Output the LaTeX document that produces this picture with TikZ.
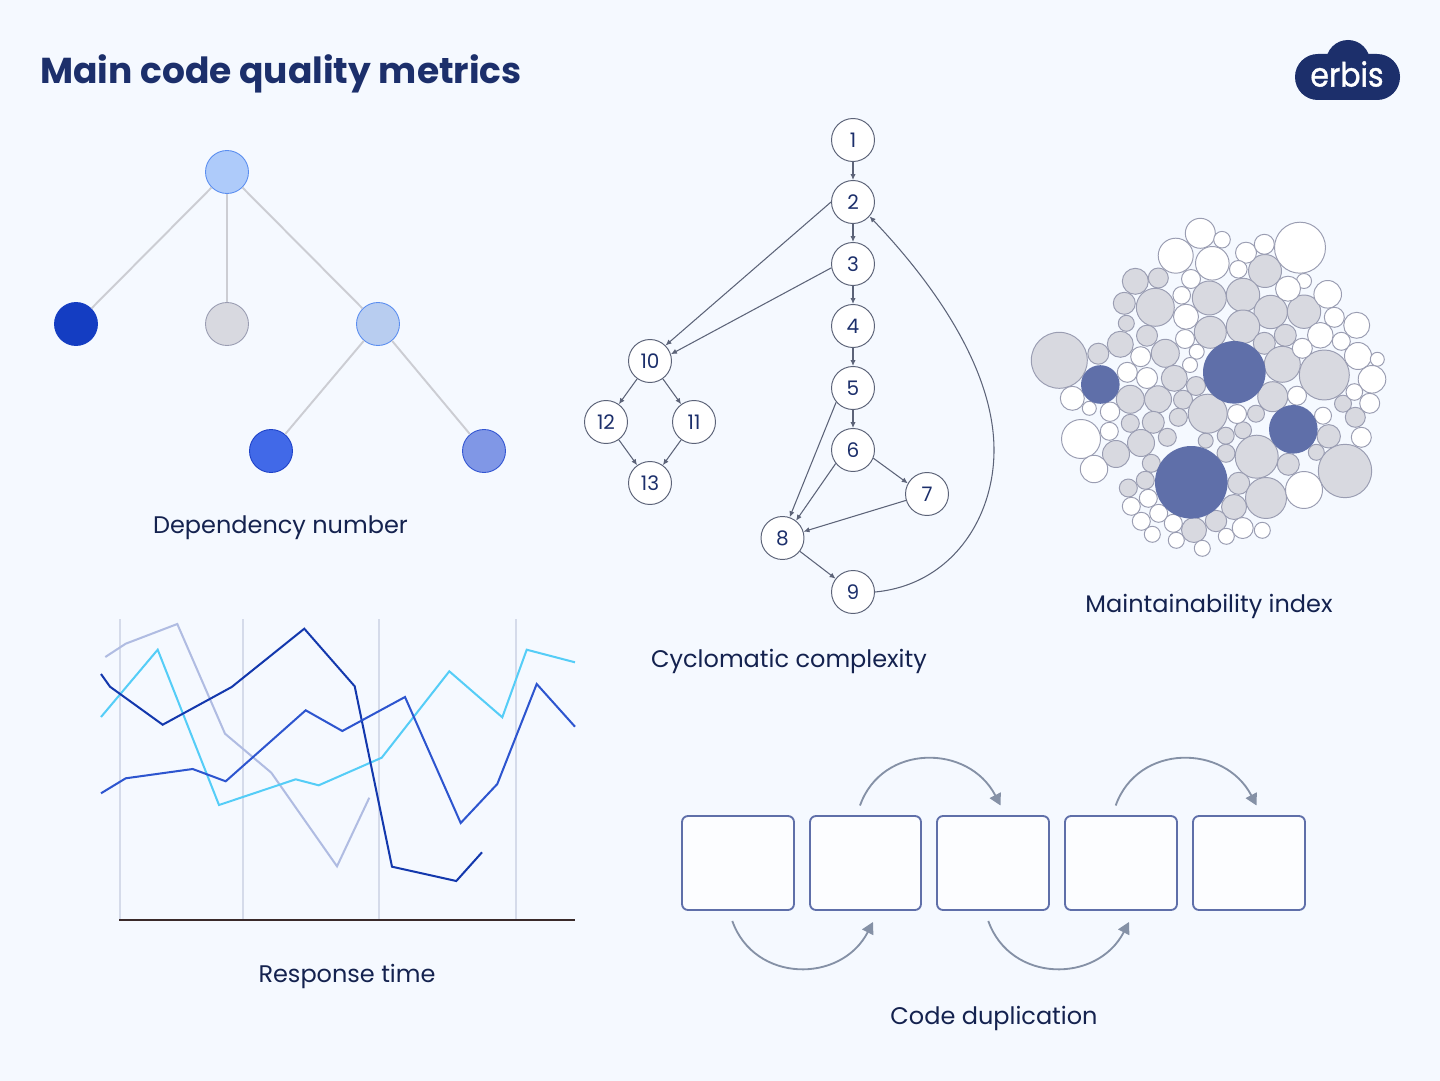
\documentclass[tikz,border=0pt]{standalone}
\usepackage{fontspec}
\setmainfont{Poppins}
\newfontfamily\logofont{Poppins}[FakeBold=1.2]
\usetikzlibrary{arrows.meta}
\definecolor{pagebg}{HTML}{F5F9FF}
\definecolor{navy}{HTML}{1C2F6B}
\definecolor{labelink}{HTML}{14224F}
\definecolor{bubblegray}{HTML}{D8D9E0}
\definecolor{bubbleline}{HTML}{9A9DB2}
\definecolor{bubbleblue}{HTML}{5F6FA9}
\definecolor{edgegray}{HTML}{5C6378}
\definecolor{dupgray}{HTML}{8591A6}
\definecolor{treeline}{HTML}{CCCDD3}
\tikzset{
    caption/.style={text=labelink, font=\fontsize{13.66}{16}\selectfont},
    numnode/.style={circle, draw=edgegray, fill=white, line width=0.55pt, minimum size=0.86cm, inner sep=0pt, text=navy, font=\fontsize{11.4}{13}\selectfont},
    flowline/.style={edgegray, line width=0.6pt, -{Latex[length=3.4pt,width=3pt]}},
    treenode/.style={circle, line width=0.5pt, minimum size=0.86cm, inner sep=0pt},
    treeedge/.style={treeline, line width=1.1pt},
    whitebub/.style={draw=bubbleline, fill=white, line width=0.55pt},
    graybub/.style={draw=bubbleline, fill=bubblegray, line width=0.55pt},
    bluebub/.style={fill=bubbleblue},
    gridline/.style={color={rgb,255:red,213;green,219;blue,234}, line width=1.1pt},
    chartline/.style={line width=1.15pt, line join=miter},
    dupbox/.style={draw=bubbleblue, fill=white!70!pagebg, rounded corners=3.4pt, line width=1.05pt, minimum width=2.24cm, minimum height=1.88cm},
    duparrow/.style={dupgray, line width=1.05pt, -{Triangle[length=6.6pt,width=7pt]}}
}
\begin{document}
\begin{tikzpicture}[x=0.02cm, y=-0.02cm]
    \useasboundingbox (0,0) rectangle (1440,1081);
    \fill[pagebg] (0,0) rectangle (1440,1081);

    \node[anchor=west, inner sep=0pt, text=navy, font=\fontsize{20.5}{24}\selectfont\bfseries] (title) at (40,74) {Main code quality metrics};
    \fill[navy, rounded corners=13pt] (1295,54) rectangle (1400,100);
    \fill[navy] (1348,62) circle (22);
    \node[text=white, xscale=0.9, inner sep=0pt, font=\fontsize{19}{22}\logofont] (logo) at (1347,74) {erbis};

    \node[treenode, draw={rgb,255:red,91;green,142;blue,240}, fill={rgb,255:red,174;green,203;blue,250}] (root) at (227,172) {};
    \node[treenode, draw={rgb,255:red,20;green,61;blue,194}, fill={rgb,255:red,20;green,61;blue,194}] (dep1) at (76,324) {};
    \node[treenode, draw=bubbleline, fill=bubblegray] (dep2) at (227,324) {};
    \node[treenode, draw={rgb,255:red,91;green,142;blue,240}, fill={rgb,255:red,184;green,205;blue,240}] (dep3) at (378,324) {};
    \node[treenode, draw={rgb,255:red,30;green,66;blue,200}, fill={rgb,255:red,65;green,105;blue,232}] (dep4) at (271,451) {};
    \node[treenode, draw={rgb,255:red,50;green,85;blue,210}, fill={rgb,255:red,128;green,151;blue,230}] (dep5) at (484,451) {};
    \draw[treeedge] (root) -- (dep1);
    \draw[treeedge] (root) -- (dep2);
    \draw[treeedge] (root) -- (dep3);
    \draw[treeedge] (dep3) -- (dep4);
    \draw[treeedge] (dep3) -- (dep5);
    \node[caption] (deplabel) at (280.5,528) {Dependency number};

    \node[numnode] (n1) at (853,140) {1};
    \node[numnode] (n2) at (853,202) {2};
    \node[numnode] (n3) at (853,264) {3};
    \node[numnode] (n4) at (853,326) {4};
    \node[numnode] (n5) at (853,388) {5};
    \node[numnode] (n6) at (853,450) {6};
    \node[numnode] (n7) at (927,494) {7};
    \node[numnode] (n8) at (782.5,538) {8};
    \node[numnode] (n9) at (853,592) {9};
    \node[numnode] (n10) at (650,361) {10};
    \node[numnode] (n11) at (694,422) {11};
    \node[numnode] (n12) at (606,422) {12};
    \node[numnode] (n13) at (650,483) {13};
    \draw[flowline] (n1) -- (n2);
    \draw[flowline] (n2) -- (n3);
    \draw[flowline] (n3) -- (n4);
    \draw[flowline] (n4) -- (n5);
    \draw[flowline] (n5) -- (n6);
    \draw[flowline] (n6.-22) -- (n7.151);
    \draw[flowline] (n7) -- (n8);
    \draw[flowline] (n6.218) -- (n8.52);
    \draw[flowline] (n5.220) -- (n8.71);
    \draw[flowline] (n8) -- (n9);
    \draw[flowline] (n2.west) -- (n10.45);
    \draw[flowline] (n3.190) -- (n10.18);
    \draw[flowline] (n10) -- (n12);
    \draw[flowline] (n10) -- (n11);
    \draw[flowline] (n12) -- (n13);
    \draw[flowline] (n11) -- (n13);
    \draw[flowline] (n9.east) .. controls (950,585) and (994,520) .. (994,450) .. controls (994,370) and (935,285) .. (n2.-41);
    \node[caption] (cyclabel) at (789,661) {Cyclomatic complexity};

    \foreach \x/\y/\r in {
        1059.3/360.3/28, 1098.3/353.7/10.5, 1135.3/281.3/13, 1158.3/278/10, 1265/271/16.5,
        1124.3/303.3/11, 1155.3/307.3/19, 1209.3/298/17, 1243/295/16.7, 1270.7/312/16.7,
        1304/311.7/16.7, 1126.3/323.3/8, 1210.3/332.3/16, 1243/326.7/16.7, 1147/335.7/10.5,
        1285.3/335.3/11, 1264.3/343.3/11, 1120.3/344.3/13, 1165.3/353.3/14, 1282.3/364.3/18,
        1324.3/375/25, 1174.3/378.3/13, 1196/386/9.5, 1130.3/399.3/14, 1158/399.3/13.5,
        1183/399.7/9.5, 1272.7/396.7/15, 1207.7/413.7/19.5, 1256/413.7/8.5, 1343/403.7/8.5,
        1355.3/417.3/10, 1130.3/423.3/9, 1153.3/422.3/11, 1178.3/417.3/9, 1225.7/435.7/8.5,
        1243/430.3/8.5, 1167.3/437.3/9, 1141/443/13.5, 1205.7/440.7/7.5, 1328.7/436.3/11.7,
        1116/454/13.5, 1226/453.3/9, 1256.7/456.7/21.5, 1316.3/452.3/8, 1151.3/463.3/9,
        1288.3/464.3/11, 1345/471/26.7, 1145.3/480.3/9, 1128.3/488/9, 1238.7/483.3/11,
        1266/498/20.5, 1234/507/12.5, 1216/521/10.7, 1194/530/12.5}
        \draw[graybub] (\x,\y) circle (\r);
    \foreach \x/\y/\r in {
        1200.3/233.3/15, 1222/239.7/8.3, 1175.7/255.7/17.5, 1212.3/263.3/16.8, 1246/252.7/10.5,
        1264.3/244.3/10, 1300/247.7/25.5, 1238.3/269.3/8.8, 1191/279/9.5, 1304/281/7.5,
        1288/288.7/12.5, 1327.7/294.3/13.8, 1181.7/295.3/8.8, 1334.3/317.3/10, 1186/316.7/12.5,
        1356.7/325.3/13, 1320.3/335.3/12.8, 1341.3/341.3/9, 1185/339/9.5, 1302.3/348.3/10,
        1196.7/351.7/7.5, 1358/356/13.5, 1377.3/359.3/7, 1190/365/7.5, 1140.7/356.7/10,
        1127.3/372.3/10, 1147/378/10.5, 1372/379.3/13.8, 1354.3/392/8.3, 1297/395.7/9.5,
        1072.3/398.3/12, 1089.3/408.3/7, 1110/411.7/9.7, 1369.7/403.3/10, 1237/414/9.5,
        1323/415.7/8.5, 1081/439/19.5, 1109.3/431.3/9, 1361.3/437.3/10, 1094/469/13.7,
        1304/490/18.5, 1148.3/498.3/9, 1131.3/506.3/9, 1158.7/513.3/9, 1141.3/521.3/9,
        1173.3/523.3/9, 1152.3/534.3/8, 1176.3/540.3/8, 1202.3/548.3/8, 1226.3/536.3/8,
        1242.7/528/10.5, 1262.3/530.3/8}
        \draw[whitebub] (\x,\y) circle (\r);
    \foreach \x/\y/\r in {1100.3/384.5/19.3, 1234.3/372.3/31.3, 1293.3/429.3/24.3, 1191.3/482.3/36.3}
        \fill[bluebub] (\x,\y) circle (\r);
    \node[caption] (mainlabel) at (1209,606) {Maintainability index};

    \foreach \x in {120,243,379,515.7}
        \draw[gridline] (\x,619) -- (\x,920);
    \draw[color={rgb,255:red,58;green,42;blue,42}, line width=1.2pt] (119,920) -- (575,920);
    \draw[chartline, color={rgb,255:red,176;green,188;blue,226}] (105.3,657) -- (125.7,643.7) -- (177.3,624) -- (225,733.7) -- (271.3,772.7) -- (337,866.3) -- (369.3,797.7);
    \draw[chartline, color={rgb,255:red,85;green,205;blue,247}] (101,717) -- (157.7,649.7) -- (219,805) -- (295.7,779.3) -- (318.7,785.3) -- (381.7,757.7) -- (449.3,671.3) -- (502.3,717.3) -- (526.7,649.7) -- (575,662.3);
    \draw[chartline, color={rgb,255:red,19;green,56;blue,173}] (101,674) -- (110,686.7) -- (162.7,724.7) -- (231.7,687) -- (304.3,628.7) -- (354.7,686.3) -- (392,866.7) -- (456.3,881) -- (482,852.3);
    \draw[chartline, color={rgb,255:red,45;green,85;blue,207}] (101,793.3) -- (125.7,778.3) -- (192.7,769) -- (225.7,781.3) -- (305.7,710.3) -- (342.3,731) -- (405,697) -- (460.7,823) -- (497.3,784) -- (536.7,684) -- (575,726.7);
    \node[caption] (resplabel) at (347,976) {Response time};

    \node[dupbox] (box1) at (738,863) {};
    \node[dupbox, minimum width=2.22cm] (box2) at (865.5,863) {};
    \node[dupbox] (box3) at (993,863) {};
    \node[dupbox] (box4) at (1121,863) {};
    \node[dupbox] (box5) at (1249,863) {};
    \coordinate (d1a) at (732.3,921);
    \coordinate (d1b) at (873,922);
    \coordinate (d2a) at (988.3,921);
    \coordinate (d2b) at (1129,922);
    \coordinate (u1a) at (860,805.5);
    \coordinate (u1b) at (1000.5,805.5);
    \coordinate (u2a) at (1115.7,805.5);
    \coordinate (u2b) at (1256.5,805.5);
    \draw[duparrow] (d1a) .. controls +(22,62) and +(-32,62) .. (d1b);
    \draw[duparrow] (d2a) .. controls +(22,62) and +(-32,62) .. (d2b);
    \draw[duparrow] (u1a) .. controls +(22,-62) and +(-32,-62) .. (u1b);
    \draw[duparrow] (u2a) .. controls +(22,-62) and +(-32,-62) .. (u2b);
    \node[caption] (duplabel) at (994,1018) {Code duplication};
\end{tikzpicture}
\end{document}
